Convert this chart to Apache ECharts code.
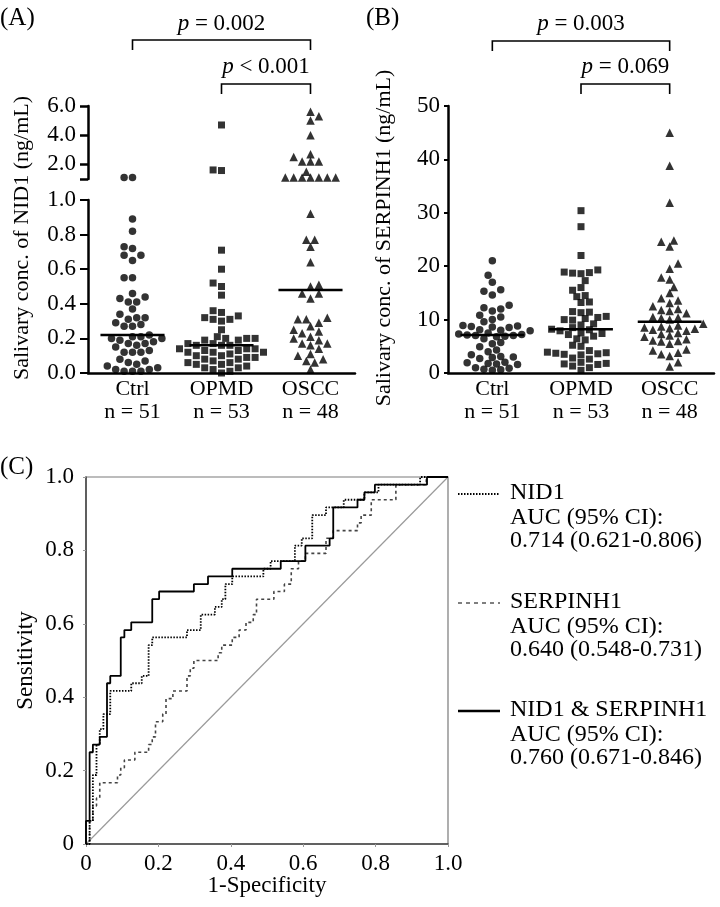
<!DOCTYPE html>
<html><head><meta charset="utf-8">
<script src="https://cdn.jsdelivr.net/npm/echarts@6/dist/echarts.min.js"></script>
<style>html,body{margin:0;padding:0;background:#fff}#c{width:720px;height:907px}</style>
</head><body><div id="c"></div>
<script>
// ---------- DATA ----------
const categories = ['Ctrl', 'OPMD', 'OSCC'];
const groupN = [51, 53, 48];
const pValuesA = ['0.002', '< 0.001'];
const pValuesB = ['0.003', '= 0.069'];

const nid1Ctrl = [1.10, 1.10, 0.89, 0.82, 0.73, 0.72, 0.68, 0.68, 0.65, 0.55, 0.55, 0.46, 0.44, 0.43, 0.41, 0.41, 0.37, 0.34, 0.32, 0.32, 0.31, 0.29, 0.28, 0.27, 0.27, 0.22, 0.21, 0.21, 0.20, 0.20, 0.19, 0.18, 0.17, 0.17, 0.16, 0.15, 0.13, 0.12, 0.12, 0.12, 0.08, 0.07, 0.06, 0.05, 0.04, 0.03, 0.02, 0.02, 0.01, 0.01, 0.01];
const nid1Opmd = [4.70, 1.62, 1.58, 0.71, 0.60, 0.52, 0.50, 0.45, 0.36, 0.35, 0.33, 0.32, 0.31, 0.31, 0.30, 0.25, 0.21, 0.20, 0.20, 0.20, 0.19, 0.19, 0.17, 0.17, 0.16, 0.16, 0.16, 0.14, 0.14, 0.14, 0.13, 0.13, 0.12, 0.12, 0.12, 0.11, 0.10, 0.10, 0.09, 0.09, 0.08, 0.08, 0.07, 0.06, 0.06, 0.05, 0.05, 0.04, 0.03, 0.03, 0.02, 0.01, 0.00];
const nid1Oscc = [5.6, 5.3, 5.0, 4.0, 2.7, 2.5, 2.2, 2.2, 2.2, 1.5, 1.1, 1.1, 1.1, 1.1, 1.1, 1.1, 1.1, 0.92, 0.77, 0.77, 0.73, 0.64, 0.51, 0.50, 0.46, 0.46, 0.43, 0.32, 0.31, 0.31, 0.29, 0.27, 0.25, 0.24, 0.23, 0.21, 0.20, 0.19, 0.17, 0.17, 0.16, 0.14, 0.11, 0.10, 0.08, 0.07, 0.06, 0.02];

const serCtrl = [21.0, 18.3, 17.0, 15.6, 15.3, 14.6, 12.7, 12.2, 12.0, 11.6, 10.8, 10.5, 10.0, 9.6, 8.9, 8.8, 8.7, 8.6, 8.5, 8.1, 8.0, 7.9, 7.5, 7.3, 7.2, 7.1, 7.0, 7.0, 6.9, 6.8, 6.4, 5.7, 5.5, 4.9, 4.3, 4.0, 3.4, 3.1, 3.0, 2.9, 2.7, 2.0, 1.9, 1.8, 1.7, 1.6, 1.0, 0.9, 0.7, 0.6, 0.5];
const serOpmd = [30.4, 27.4, 22.0, 19.3, 18.9, 18.8, 18.7, 18.6, 17.3, 16.0, 15.5, 14.5, 14.3, 13.3, 13.2, 11.5, 11.4, 11.3, 10.6, 10.4, 10.2, 10.0, 9.9, 9.2, 9.0, 8.5, 8.2, 8.1, 7.9, 7.5, 7.4, 7.2, 6.9, 6.4, 6.2, 5.2, 5.0, 4.2, 3.9, 3.8, 3.7, 3.6, 3.5, 3.4, 2.8, 2.6, 2.0, 1.8, 1.7, 1.6, 1.3, 1.0, 0.5];
const serOscc = [45.0, 38.8, 31.9, 24.8, 24.6, 23.7, 20.5, 19.5, 17.9, 17.5, 16.1, 15.0, 14.0, 13.6, 13.1, 12.5, 12.0, 11.8, 11.6, 11.2, 10.5, 10.4, 10.3, 10.0, 9.2, 8.9, 8.7, 8.5, 8.4, 8.3, 8.1, 7.9, 7.5, 7.3, 7.0, 6.8, 6.3, 6.1, 6.0, 5.9, 5.5, 4.4, 4.2, 3.8, 3.5, 3.2, 2.0, 1.2];

// ROC curves: [1-specificity, sensitivity] step vertices
const rocNID1 = [[0,0],[0.010,0],[0.010,0.063],[0.019,0.063],[0.019,0.188],[0.029,0.188],[0.029,0.271],[0.038,0.271],[0.038,0.313],[0.048,0.313],[0.048,0.354],[0.067,0.354],[0.067,0.417],[0.125,0.417],[0.125,0.438],[0.154,0.438],[0.154,0.458],[0.173,0.458],[0.173,0.542],[0.183,0.542],[0.183,0.563],[0.279,0.563],[0.279,0.583],[0.317,0.583],[0.317,0.625],[0.356,0.625],[0.356,0.646],[0.375,0.646],[0.375,0.667],[0.385,0.667],[0.385,0.708],[0.404,0.708],[0.404,0.729],[0.490,0.729],[0.490,0.750],[0.510,0.750],[0.510,0.771],[0.577,0.771],[0.577,0.813],[0.596,0.813],[0.596,0.833],[0.625,0.833],[0.625,0.896],[0.663,0.896],[0.663,0.917],[0.712,0.917],[0.712,0.938],[0.769,0.938],[0.769,0.958],[0.808,0.958],[0.808,0.979],[0.923,0.979],[0.923,1],[1,1]];
const rocSERP = [[0,0],[0.010,0],[0.010,0.063],[0.019,0.063],[0.019,0.104],[0.029,0.104],[0.029,0.125],[0.038,0.125],[0.038,0.167],[0.087,0.167],[0.087,0.188],[0.096,0.188],[0.096,0.208],[0.106,0.208],[0.106,0.229],[0.135,0.229],[0.135,0.250],[0.173,0.250],[0.173,0.271],[0.183,0.271],[0.183,0.292],[0.192,0.292],[0.192,0.333],[0.212,0.333],[0.212,0.354],[0.221,0.354],[0.221,0.396],[0.240,0.396],[0.240,0.417],[0.279,0.417],[0.279,0.458],[0.288,0.458],[0.288,0.479],[0.298,0.479],[0.298,0.500],[0.365,0.500],[0.365,0.521],[0.375,0.521],[0.375,0.542],[0.404,0.542],[0.404,0.563],[0.423,0.563],[0.423,0.583],[0.442,0.583],[0.442,0.604],[0.462,0.604],[0.462,0.625],[0.471,0.625],[0.471,0.667],[0.519,0.667],[0.519,0.688],[0.548,0.688],[0.548,0.708],[0.567,0.708],[0.567,0.750],[0.587,0.750],[0.587,0.771],[0.606,0.771],[0.606,0.792],[0.663,0.792],[0.663,0.833],[0.683,0.833],[0.683,0.854],[0.750,0.854],[0.750,0.875],[0.760,0.875],[0.760,0.896],[0.788,0.896],[0.788,0.938],[0.856,0.938],[0.856,0.979],[0.940,0.979],[0.940,1],[1,1]];
const rocBoth = [[0,0],[0,0.063],[0.010,0.063],[0.010,0.250],[0.019,0.250],[0.019,0.271],[0.038,0.271],[0.038,0.292],[0.058,0.292],[0.058,0.438],[0.067,0.438],[0.067,0.458],[0.096,0.458],[0.096,0.563],[0.106,0.563],[0.106,0.583],[0.125,0.583],[0.125,0.604],[0.183,0.604],[0.183,0.667],[0.202,0.667],[0.202,0.688],[0.298,0.688],[0.298,0.708],[0.337,0.708],[0.337,0.729],[0.404,0.729],[0.404,0.750],[0.538,0.750],[0.538,0.771],[0.606,0.771],[0.606,0.813],[0.673,0.813],[0.673,0.833],[0.683,0.833],[0.683,0.917],[0.750,0.917],[0.750,0.938],[0.769,0.938],[0.769,0.958],[0.798,0.958],[0.798,0.979],[0.942,0.979],[0.942,1],[1,1]];

const legendNames = ['NID1', 'SERPINH1', 'NID1 & SERPINH1'];
const legendAUC = ['0.714 (0.621-0.806)', '0.640 (0.548-0.731)', '0.760 (0.671-0.846)'];

// ---------- LAYOUT ----------
const FF = '"Liberation Serif", "Times New Roman", serif';
const FS = 23;
const GA_UP = {left: 88, top: 106, width: 267, height: 73};
const GA_LO = {left: 88, top: 200, width: 267, height: 173};
const GB = {left: 448, top: 106, width: 266, height: 267};
const GC = {left: 86, top: 477, width: 362, height: 367};
const UPPER_MIN = 1, UPPER_MAX = 6;

function median(a) {
  const s = a.slice().sort((x, y) => x - y); const n = s.length;
  return n % 2 ? s[(n - 1) / 2] : (s[n / 2 - 1] + s[n / 2]) / 2;
}
// beeswarm offsets (px) computed from values
function swarm(vals, toPx, d) {
  const order = vals.map((v, i) => i).sort((a, b) => vals[a] - vals[b]);
  const placed = []; const off = new Array(vals.length).fill(0);
  let bal = 0;
  for (const i of order) {
    const y = toPx(vals[i]);
    let best = null;
    for (let m = 0; m < 40 && best === null; m++) {
      const mag = m * d / 2;
      const cands = m === 0 ? [0] : (bal > 0 ? [-mag, mag] : [mag, -mag]);
      for (const c of cands) {
        if (!placed.some(p => { const dx = p.x - c, dy = p.y - y; return dx * dx + dy * dy < d * d * 0.72; })) { best = c; break; }
      }
    }
    off[i] = best; bal += best; placed.push({x: best, y});
  }
  return off;
}
const pxA = v => v > 1
  ? GA_UP.top + GA_UP.height - (v - UPPER_MIN) / (UPPER_MAX - UPPER_MIN) * GA_UP.height
  : GA_LO.top + GA_LO.height - v * GA_LO.height;
const pxB = v => GB.top + GB.height - v / 50 * GB.height;

const symbols = ['circle', 'rect', 'triangle'];
const symSizes = [7.5, 7, 8.5];
const series = [];

function addGroup(vals, ci, toPx, band, xIdxUp, xIdxLo, yIdxUp, yIdxLo) {
  const off = swarm(vals, toPx, 8.4);
  const up = [], lo = [];
  vals.forEach((v, k) => {
    const pt = [ci + off[k] / band, v];
    if (yIdxUp !== null && v > 1) up.push(pt); else lo.push(pt);
  });
  const base = {type: 'scatter', symbol: symbols[ci], symbolSize: symSizes[ci], itemStyle: {color: '#000'}, clip: false, silent: true, z: 3};
  if (up.length) series.push(Object.assign({}, base, {xAxisIndex: xIdxUp, yAxisIndex: yIdxUp, data: up}));
  series.push(Object.assign({}, base, {xAxisIndex: xIdxLo, yAxisIndex: yIdxLo, data: lo}));
  const md = median(vals);
  series.push({type: 'line', xAxisIndex: xIdxLo, yAxisIndex: yIdxLo, symbol: 'none', silent: true, z: 4,
    lineStyle: {color: '#000', width: 2.5}, data: [[ci - 0.36, md], [ci + 0.36, md]]});
}
[nid1Ctrl, nid1Opmd, nid1Oscc].forEach((vals, ci) => addGroup(vals, ci, pxA, GA_LO.width / 3, 0, 1, 0, 1));
[serCtrl, serOpmd, serOscc].forEach((vals, ci) => addGroup(vals, ci, pxB, GB.width / 3, null, 2, null, 2));

// ROC
series.push({type: 'line', xAxisIndex: 3, yAxisIndex: 3, symbol: 'none', silent: true, z: 2,
  lineStyle: {color: '#9a9a9a', width: 1.2}, data: [[0, 0], [1, 1]]});
series.push({type: 'line', xAxisIndex: 3, yAxisIndex: 3, symbol: 'none', silent: true, z: 3,
  lineStyle: {color: '#444', width: 1.6, type: [3, 3]}, data: rocSERP});
series.push({type: 'line', xAxisIndex: 3, yAxisIndex: 3, symbol: 'none', silent: true, z: 4,
  lineStyle: {color: '#000', width: 1.8, type: [1.5, 1.5]}, data: rocNID1});
series.push({type: 'line', xAxisIndex: 3, yAxisIndex: 3, symbol: 'none', silent: true, z: 5,
  lineStyle: {color: '#000', width: 1.8}, data: rocBoth});

const lbl = {fontFamily: FF, fontSize: FS, color: '#000'};
const catLabel = v => categories[Math.round(v)] + '\nn = ' + groupN[Math.round(v)];
function catXAxis(gi) {
  return {gridIndex: gi, type: 'value', min: -0.5, max: 2.5,
    axisLine: {onZero: false, lineStyle: {color: '#000', width: 2.5}}, axisTick: {show: false}, splitLine: {show: false},
    axisLabel: Object.assign({customValues: [0, 1, 2], formatter: catLabel, margin: 5, lineHeight: 23}, lbl, {fontSize: 22})};
}
const blackAxis = {onZero: false, lineStyle: {color: '#000', width: 2.5}};

const option = {
  animation: false,
  textStyle: {fontFamily: FF},
  grid: [
    Object.assign({outerBoundsMode: 'none'}, GA_UP),
    Object.assign({outerBoundsMode: 'none'}, GA_LO),
    Object.assign({outerBoundsMode: 'none'}, GB),
    Object.assign({outerBoundsMode: 'none', show: true, borderColor: '#7a7a7a', borderWidth: 1.2}, GC)
  ],
  xAxis: [
    {gridIndex: 0, type: 'value', min: -0.5, max: 2.5, show: false},
    catXAxis(1),
    catXAxis(2),
    {gridIndex: 3, type: 'value', min: 0, max: 1, interval: 0.2, splitLine: {show: false},
      axisLine: {onZero: false, lineStyle: {color: '#444', width: 1.5}}, axisTick: {length: 3, lineStyle: {color: '#999'}},
      axisLabel: Object.assign({margin: 8, formatter: v => v === 0 ? '0' : v.toFixed(1)}, lbl)}
  ],
  yAxis: [
    {gridIndex: 0, type: 'value', min: UPPER_MIN, max: UPPER_MAX, splitLine: {show: false}, axisLine: blackAxis,
      axisTick: {customValues: [1, 2, 4, 6], length: 8, lineStyle: {color: '#000', width: 2.5}},
      axisLabel: Object.assign({customValues: [2, 4, 6], margin: 12, formatter: v => v.toFixed(1)}, lbl)},
    {gridIndex: 1, type: 'value', min: 0, max: 1, interval: 0.2, splitLine: {show: false}, axisLine: blackAxis,
      axisTick: {length: 8, lineStyle: {color: '#000', width: 2}},
      axisLabel: Object.assign({margin: 12, formatter: v => v.toFixed(1)}, lbl)},
    {gridIndex: 2, type: 'value', min: 0, max: 50, interval: 10, splitLine: {show: false}, axisLine: blackAxis,
      axisTick: {length: 4, lineStyle: {color: '#000', width: 2}},
      axisLabel: Object.assign({margin: 8}, lbl)},
    {gridIndex: 3, type: 'value', min: 0, max: 1, interval: 0.2, splitLine: {show: false},
      axisLine: {onZero: false, lineStyle: {color: '#444', width: 1.5}}, axisTick: {length: 3, lineStyle: {color: '#999'}},
      axisLabel: Object.assign({margin: 12, formatter: v => v === 0 ? '0' : v.toFixed(1)}, lbl)}
  ],
  series: series,
  graphic: []
};

// annotations
const g = option.graphic;
function txt(x, y, text, extra) {
  g.push(Object.assign({type: 'text', x: x, y: y, silent: true, z: 10,
    style: Object.assign({text: text, fontFamily: FF, fontSize: FS, fill: '#000', align: 'left', verticalAlign: 'middle'}, (extra && extra.style) || {})},
    extra ? {rotation: extra.rotation || 0} : {}));
}
const rich = {i: {fontFamily: FF, fontSize: FS, fontStyle: 'italic', fill: '#000'}};
function bracket(grid, i0, i1, yTop, label, yText) {
  const band = grid.width / 3;
  const x0 = grid.left + (i0 + 0.5) * band, x1 = grid.left + (i1 + 0.5) * band;
  g.push({type: 'polyline', silent: true, shape: {points: [[x0, yTop + 10], [x0, yTop], [x1, yTop], [x1, yTop + 10]]},
    style: {stroke: '#000', lineWidth: 1.6, fill: null}});
  txt((x0 + x1) / 2, yText, '{i|p} ' + label, {style: {align: 'center', rich: rich}});
}
bracket(GA_LO, 0, 2, 40, '= ' + pValuesA[0], 24);
bracket(GA_LO, 1, 2, 84, pValuesA[1], 67);
bracket(GB, 0, 2, 41, '= ' + pValuesB[0], 24);
bracket(GB, 1, 2, 84, pValuesB[1], 67);

txt(0, 18, '(A)', {style: {fontSize: 25}});
txt(366, 18, '(B)', {style: {fontSize: 25}});
txt(0, 467, '(C)', {style: {fontSize: 25}});
txt(22, 238, 'Salivary conc. of NID1 (ng/mL)', {rotation: Math.PI / 2, style: {align: 'center', fontSize: 22}});
txt(384, 238, 'Salivary conc. of SERPINH1 (ng/mL)', {rotation: Math.PI / 2, style: {align: 'center', fontSize: 22}});
txt(26, GC.top + GC.height / 2, 'Sensitivity', {rotation: Math.PI / 2, style: {align: 'center'}});
txt(GC.left + GC.width / 2, 886, '1-Specificity', {style: {align: 'center'}});

// legend
const legY = [493, 602, 710];
const legDash = [[1.5, 1.5], [4, 4], null];
const legCol = ['#000', '#555', '#000'];
const legW = [1.8, 1.6, 2.5];
legY.forEach((y, k) => {
  g.push({type: 'line', silent: true, shape: {x1: 458, y1: y + 1, x2: 500, y2: y + 1},
    style: {stroke: legCol[k], lineWidth: legW[k], lineDash: legDash[k]}});
  txt(510, y, legendNames[k], {style: {fontSize: 24}});
  txt(510, y + 25, 'AUC (95% CI):', {style: {fontSize: 24}});
  txt(510, y + 48, legendAUC[k], {style: {fontSize: 24}});
});

const chart = echarts.init(document.getElementById('c'), null, {renderer: 'canvas'});
chart.setOption(option);
</script></body></html>
